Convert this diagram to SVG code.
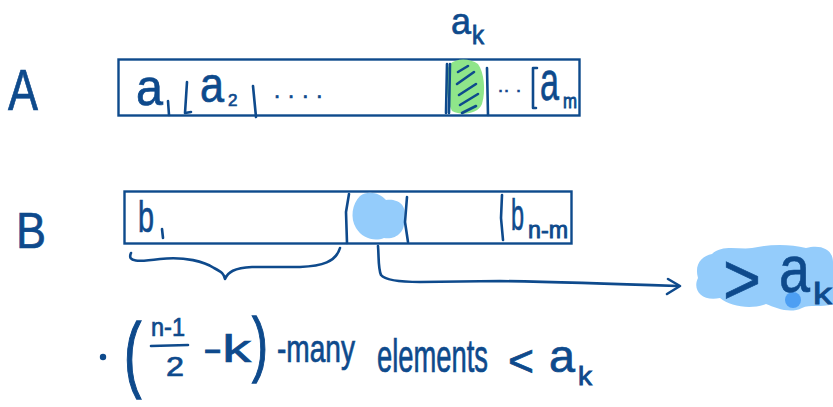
<svg xmlns="http://www.w3.org/2000/svg" width="833" height="407" viewBox="0 0 833 407">
<style>
.ink{fill:none;stroke:#0e4a8c;stroke-width:2.6;stroke-linecap:round;stroke-linejoin:round}
.box{fill:#fff;stroke:#0e4a8c;stroke-width:2.4}
.t{fill:#0e4a8c;stroke:#0e4a8c;stroke-width:0.7;font-family:"Liberation Sans","DejaVu Sans",sans-serif}
.sub{fill:#0e4a8c;stroke:#0e4a8c;stroke-width:0.9;font-family:"Liberation Sans","DejaVu Sans",sans-serif}
</style>
<rect width="833" height="407" fill="#fff"/>

<g id="labelA"><text class="t" x="8" y="110" font-size="58" textLength="30" lengthAdjust="spacingAndGlyphs">A</text></g>
<g id="labelB"><text class="t" x="16" y="248" font-size="50" textLength="30" lengthAdjust="spacingAndGlyphs">B</text></g>

<g id="arrayA">
<rect class="box" x="118.5" y="59.5" width="461" height="56"/>
<path d="M450,64 C444,72 446,100 452,111 C462,116 478,114 482,104 C486,90 484,72 478,64 C470,58 456,58 450,64 Z" fill="#8fe58a"/>
<path class="ink" d="M458,72 L468,66 M457,84 L474,72 M459,95 L476,84 M460,105 L478,94 M462,113 L476,106" stroke="#1b5b3a" stroke-width="2.4"/>
<path class="ink" d="M447,64 L446,113 M450,64 L449,113" stroke-width="2.8"/>
<path class="ink" d="M487,68 L488,115"/>
<text class="t" x="136" y="105" font-size="52" textLength="27" lengthAdjust="spacingAndGlyphs">a</text>
<path class="ink" d="M168,101 L169,115" stroke-width="3.4"/>
<path class="ink" d="M187,82 L185,113 L191,112"/>
<text class="t" x="200" y="102" font-size="50" textLength="24" lengthAdjust="spacingAndGlyphs">a</text>
<text class="t" x="228" y="106" font-size="17">2</text>
<path class="ink" d="M253,86 L256,117"/>
<text class="t" x="274" y="98" font-size="22" letter-spacing="8">....</text>
<text class="t" x="498" y="92" font-size="18" letter-spacing="1">.. .</text>
<path class="ink" d="M537,68 L533,68 L533,108 L536,108"/>
<text class="t" x="540" y="100" font-size="56" textLength="19" lengthAdjust="spacingAndGlyphs">a</text>
<text class="sub" x="563" y="108" font-size="20" textLength="14" lengthAdjust="spacingAndGlyphs">m</text>
<text class="t" x="451" y="34" font-size="37" textLength="20" lengthAdjust="spacingAndGlyphs">a</text>
<text class="sub" x="472" y="44" font-size="26" textLength="12" lengthAdjust="spacingAndGlyphs">k</text>
</g>

<g id="arrayB">
<rect class="box" x="124.5" y="191.5" width="447" height="52"/>
<path d="M360,196 C368,190 380,193 386,200 C396,198 408,204 404,218 C406,232 396,240 384,238 C374,242 362,238 356,228 C350,218 352,204 360,196 Z" fill="#94ccfb"/>
<text class="t" x="138" y="232" font-size="44" textLength="16" lengthAdjust="spacingAndGlyphs">b</text>
<path class="ink" d="M162,229 L163,238"/>
<path class="ink" d="M349,194 L346,212 L347,243"/>
<path class="ink" d="M407,197 L405,222 L408,242"/>
<path class="ink" d="M502,195 L501,218 L503,240"/>
<text class="t" x="511" y="230" font-size="44" textLength="13" lengthAdjust="spacingAndGlyphs">b</text>
<text class="sub" x="528" y="238" font-size="24" textLength="40" lengthAdjust="spacingAndGlyphs">n-m</text>
</g>

<g id="result">
<path d="M712,254 C722,244 740,250 752,248 C770,244 790,244 806,248 C822,244 833,250 833,262 L833,304 C820,308 810,304 802,308 C790,314 776,308 766,304 C750,310 730,306 720,298 C702,302 692,290 698,278 C694,264 702,256 712,254 Z" fill="#94ccfb"/>
<circle cx="793" cy="300" r="8" fill="#4d9ff3"/>
<text class="t" x="723" y="304" font-size="72" textLength="38" lengthAdjust="spacingAndGlyphs">&gt;</text>
<text class="t" x="779" y="292" font-size="66" textLength="31" lengthAdjust="spacingAndGlyphs">a</text>
<text class="sub" x="813" y="304" font-size="30" textLength="19" lengthAdjust="spacingAndGlyphs">k</text>
</g>

<g id="connectors">
<path class="ink" d="M131,253 C127,262 138,262 160,259 C185,256 205,262 214,268 C222,272 224,274 225,279 C228,272 234,268 252,267 L300,267 C322,266 336,262 340,248"/>
<path class="ink" d="M378,246 C379,258 378,268 381,275 C385,280 400,282 420,282 L500,281 C560,282 620,284 678,286"/>
<path class="ink" d="M668,279 L680,286 L667,294"/>
</g>

<g id="note">
<circle cx="103" cy="357" r="3.2" fill="#0e4a8c"/>
<text class="t" transform="translate(124,382) scale(1.3,2.1)" x="0" y="0" font-size="40">(</text>
<text class="t" x="151" y="336" font-size="26" textLength="34" lengthAdjust="spacingAndGlyphs">n-1</text>
<path class="ink" d="M151,346 L188,345"/>
<text class="t" x="166" y="376" font-size="28" textLength="18" lengthAdjust="spacingAndGlyphs">2</text>
<text class="t" x="203" y="362" font-size="38" textLength="48" lengthAdjust="spacingAndGlyphs">-k</text>
<text class="t" transform="translate(252,368) scale(1.2,1.8)" x="0" y="0" font-size="40">)</text>
<text class="t" x="277" y="362" font-size="38" textLength="78" lengthAdjust="spacingAndGlyphs">-many</text>
<text class="t" x="377" y="372" font-size="46" textLength="111" lengthAdjust="spacingAndGlyphs">elements</text>
<text class="t" x="508" y="376" font-size="44" textLength="26" lengthAdjust="spacingAndGlyphs">&lt;</text>
<text class="t" x="549" y="372" font-size="46" textLength="26" lengthAdjust="spacingAndGlyphs">a</text>
<text class="sub" x="578" y="385" font-size="26" textLength="14" lengthAdjust="spacingAndGlyphs">k</text>
</g>
</svg>
